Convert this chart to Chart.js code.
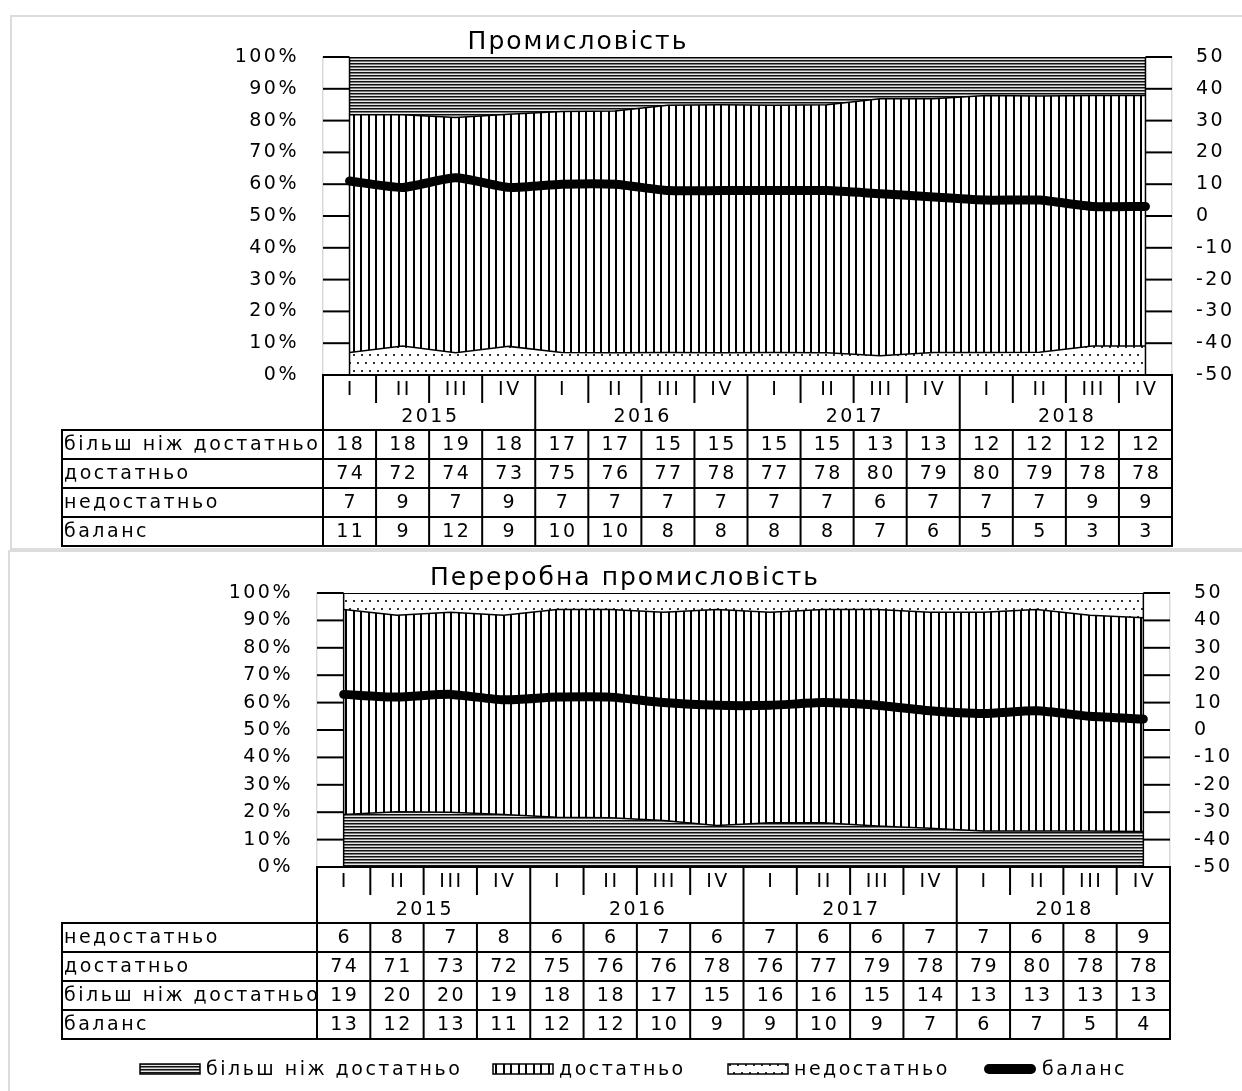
<!DOCTYPE html>
<html><head><meta charset="utf-8">
<script src="https://cdn.jsdelivr.net/npm/chart.js@4.4.1/dist/chart.umd.min.js"></script>
<style>
html,body{margin:0;padding:0;background:#fff;}
body{width:1242px;height:1091px;position:relative;overflow:hidden;}
.panel{position:absolute;border:2px solid #dcdcdc;box-sizing:border-box;}
canvas{position:absolute;left:0;}
</style></head><body>
<div class="panel" style="left:10px;top:15px;width:1250px;height:535px"></div>
<div class="panel" style="left:8px;top:550px;width:1250px;height:560px"></div>
<canvas id="c1" width="1242" height="550" style="top:0"></canvas>
<canvas id="c2" width="1242" height="541" style="top:550px"></canvas>
<script>
// ---------- data ----------
const quarters = ['I', 'II', 'III', 'IV'];
const years = ['2015', '2016', '2017', '2018'];
const nameMore = 'більш ніж достатньо';
const nameEnough = 'достатньо';
const nameNot = 'недостатньо';
const nameBal = 'баланс';

// Промисловість
const ind_more   = [18, 18, 19, 18, 17, 17, 15, 15, 15, 15, 13, 13, 12, 12, 12, 12];
const ind_enough = [74, 72, 74, 73, 75, 76, 77, 78, 77, 78, 80, 79, 80, 79, 78, 78];
const ind_not    = [7, 9, 7, 9, 7, 7, 7, 7, 7, 7, 6, 7, 7, 7, 9, 9];
const ind_bal    = [11, 9, 12, 9, 10, 10, 8, 8, 8, 8, 7, 6, 5, 5, 3, 3];

// Переробна промисловість
const man_not    = [6, 8, 7, 8, 6, 6, 7, 6, 7, 6, 6, 7, 7, 6, 8, 9];
const man_enough = [74, 71, 73, 72, 75, 76, 76, 78, 76, 77, 79, 78, 79, 80, 78, 78];
const man_more   = [19, 20, 20, 19, 18, 18, 17, 15, 16, 16, 15, 14, 13, 13, 13, 13];
const man_bal    = [13, 12, 13, 11, 12, 12, 10, 9, 9, 10, 9, 7, 6, 7, 5, 4];

const periods = years.flatMap(y => quarters.map(q => q + ' ' + y));

// ---------- style ----------
const FAMILY = "'DejaVu Sans', Verdana, sans-serif";
const LS = '2.5px';
const FS = 19;
const fnt = s => s + 'px ' + FAMILY;

function makePattern(ctx, kind) {
  const c = document.createElement('canvas'), g = c.getContext('2d');
  if (kind === 'h') {
    c.width = 4; c.height = 3;
    g.fillStyle = '#e6e6e6'; g.fillRect(0, 0, 4, 3);
    g.fillStyle = '#111'; g.fillRect(0, 0, 4, 1);
    g.fillStyle = '#7a7a7a'; g.fillRect(0, 1, 4, 1);
  } else if (kind === 'v') {
    c.width = 15; c.height = 4;
    g.fillStyle = '#fff'; g.fillRect(0, 0, 15, 4);
    g.fillStyle = '#000'; g.fillRect(0, 0, 2, 4); g.fillRect(8, 0, 2, 4);
  } else {
    c.width = 8; c.height = 16;
    g.fillStyle = '#fff'; g.fillRect(0, 0, 8, 16);
    g.fillStyle = '#333'; g.fillRect(1, 2, 2, 2); g.fillRect(5, 10, 2, 2);
  }
  return ctx.createPattern(c, 'repeat');
}

function line(ctx, x1, y1, x2, y2) {
  ctx.beginPath(); ctx.moveTo(x1, y1); ctx.lineTo(x2, y2); ctx.stroke();
}

function build(cfg) {
  const canvas = document.getElementById(cfg.id);
  const ctx = canvas.getContext('2d');
  const n = periods.length;
  const totals = periods.map((_, i) => cfg.layers.reduce((s, L) => s + L.data[i], 0));
  let cum = new Array(n).fill(0);
  const bounds = cfg.layers.map(L => {
    cum = cum.map((c, i) => c + L.data[i] / totals[i] * 100);
    return cum.slice();
  });
  const pats = {};
  cfg.layers.forEach(L => { pats[L.label] = makePattern(ctx, L.pat); });

  const datasets = [{
    label: nameBal, data: cfg.balance, yAxisID: 'y1', borderColor: '#000',
    backgroundColor: '#000', borderWidth: 9, borderCapStyle: 'round', borderJoinStyle: 'round',
    pointRadius: 0, tension: 0.2, fill: false, order: 0
  }];
  const L = cfg.layers.length;
  for (let k = L - 1; k >= 0; k--) {
    const idx = datasets.length;
    datasets.push({
      label: cfg.layers[k].label, data: bounds[k], yAxisID: 'y',
      borderColor: '#000', borderWidth: k === L - 1 ? 2 : 1.5,
      backgroundColor: pats[cfg.layers[k].label],
      pointRadius: 0, tension: 0,
      fill: k === 0 ? 'origin' : idx + 1, order: 1
    });
  }

  const deco = {
    id: 'deco',
    beforeUpdate(chart) { chart.ctx.letterSpacing = LS; },
    beforeLayout(chart) { chart.ctx.letterSpacing = LS; },
    beforeDraw(chart) { chart.ctx.letterSpacing = LS; },
    afterDatasetsDraw(chart) {
      const { ctx, chartArea: ca, scales: { x, y, y1 } } = chart;
      const xF = x.getPixelForValue(0), xL = x.getPixelForValue(n - 1);
      ctx.save();
      ctx.strokeStyle = '#000';
      ctx.lineWidth = 1.5;
      line(ctx, xF, y.getPixelForValue(0), xF, y.getPixelForValue(100));
      line(ctx, xL, y.getPixelForValue(0), xL, y.getPixelForValue(100));
      ctx.lineWidth = 2;
      y.ticks.forEach(t => { const py = y.getPixelForValue(t.value); line(ctx, ca.left, py, xF, py); });
      y1.ticks.forEach(t => { const py = y1.getPixelForValue(t.value); line(ctx, xL, py, ca.right, py); });
      ctx.restore();
    },
    afterDraw(chart) {
      const { ctx, chartArea: ca, scales: { x } } = chart;
      const colW = (ca.right - ca.left) / n;
      const edge = i => (i < n ? x.getPixelForValue(i) - colW / 2 : x.getPixelForValue(n - 1) + colW / 2);
      const y0 = ca.bottom, yQ = y0 + cfg.qh, yY = yQ + cfg.yh;
      const rows = cfg.table;
      const yEnd = yY + rows.length * cfg.rh;
      ctx.save();
      ctx.letterSpacing = LS;
      ctx.strokeStyle = '#000'; ctx.lineWidth = 2; ctx.lineCap = 'square';
      line(ctx, ca.left, y0, ca.right, y0);
      for (let i = 0; i <= n; i++) {
        const ex = edge(i);
        if (i % 4 === 0) line(ctx, ex, y0, ex, yY);
        else line(ctx, ex, y0, ex, yQ - 1);
      }
      for (let r = 0; r <= rows.length; r++) line(ctx, cfg.tableLeft, yY + r * cfg.rh, ca.right, yY + r * cfg.rh);
      line(ctx, cfg.tableLeft, yY, cfg.tableLeft, yEnd);
      for (let i = 0; i <= n; i++) line(ctx, edge(i), yY, edge(i), yEnd);

      ctx.fillStyle = '#000';
      ctx.font = fnt(FS);
      ctx.textBaseline = 'middle';
      ctx.textAlign = 'center';
      for (let i = 0; i < n; i++) ctx.fillText(quarters[i % 4], x.getPixelForValue(i) + 1.2, (y0 + yQ) / 2 + 1);
      years.forEach((yr, j) => {
        ctx.fillText(yr, (edge(j * 4) + edge(j * 4 + 4)) / 2 + 1.2, (yQ + yY) / 2 + 1);
      });
      rows.forEach((row, r) => {
        const cy = yY + r * cfg.rh + cfg.rh / 2 + 1;
        ctx.textAlign = 'left';
        ctx.fillText(row.label, cfg.tableLeft + 2, cy);
        ctx.textAlign = 'center';
        row.data.forEach((v, i) => ctx.fillText(String(v), x.getPixelForValue(i) + 1.2, cy));
      });

      // title
      ctx.font = fnt(25);
      ctx.letterSpacing = '2px';
      ctx.textAlign = 'center';
      ctx.fillText(cfg.title, cfg.titleX, cfg.titleY);
      ctx.letterSpacing = LS;

      // legend
      if (cfg.legend) {
        const ly = yEnd + cfg.legend.dy;
        ctx.font = fnt(FS);
        ctx.textAlign = 'left';
        cfg.legend.items.forEach(it => {
          if (it.label === nameBal) {
            ctx.lineWidth = 10; ctx.lineCap = 'round'; ctx.strokeStyle = '#000';
            line(ctx, it.x + 5, ly, it.x + it.w - 5, ly);
          } else {
            ctx.fillStyle = pats[it.label];
            ctx.fillRect(it.x, ly - 5, it.w, 10);
            ctx.lineWidth = 1.5; ctx.strokeStyle = '#000';
            ctx.strokeRect(it.x, ly - 5, it.w, 10);
          }
          ctx.fillStyle = '#000';
          ctx.fillText(it.label, it.x + it.w + 6, ly + 1);
        });
      }
      ctx.restore();
    }
  };

  const tickFont = { family: FAMILY, size: FS };
  return new Chart(canvas, {
    type: 'line',
    data: { labels: periods, datasets },
    options: {
      responsive: false, animation: false, events: [],
      layout: { padding: { top: cfg.top, bottom: 0, left: 0, right: 0 } },
      plugins: {
        legend: { display: false }, tooltip: { enabled: false },
        filler: { drawTime: 'beforeDatasetsDraw', propagate: false }
      },
      scales: {
        x: {
          type: 'category', offset: true, display: true,
          grid: { display: false, drawTicks: false }, border: { display: false },
          ticks: { display: false },
          afterFit: s => { s.height = cfg.xh; }
        },
        y: {
          position: 'left', min: 0, max: 100,
          ticks: { stepSize: 10, callback: v => v + '%', padding: 24, color: '#000', font: tickFont },
          grid: { display: false, drawTicks: false },
          border: { display: true, color: '#d9d9d9', width: 1.5 },
          afterFit: s => { s.width = cfg.left; }
        },
        y1: {
          position: 'right', min: -50, max: 50,
          ticks: { stepSize: 10, padding: 24, color: '#000', font: tickFont },
          grid: { display: false, drawTicks: false },
          border: { display: true, color: '#d9d9d9', width: 1.5 },
          afterFit: s => { s.width = cfg.rightW; }
        }
      }
    },
    plugins: [deco]
  });
}

build({
  id: 'c1', title: 'Промисловість', titleX: 578, titleY: 42,
  top: 57, xh: 175, left: 323, rightW: 70,
  qh: 28, yh: 27, rh: 29, tableLeft: 62,
  layers: [
    { label: nameNot, data: ind_not, pat: 'd' },
    { label: nameEnough, data: ind_enough, pat: 'v' },
    { label: nameMore, data: ind_more, pat: 'h' }
  ],
  balance: ind_bal,
  table: [
    { label: nameMore, data: ind_more },
    { label: nameEnough, data: ind_enough },
    { label: nameNot, data: ind_not },
    { label: nameBal, data: ind_bal }
  ]
});

build({
  id: 'c2', title: 'Переробна промисловість', titleX: 625, titleY: 28,
  top: 43, xh: 224, left: 317, rightW: 72,
  qh: 28, yh: 28, rh: 29, tableLeft: 62,
  layers: [
    { label: nameMore, data: man_more, pat: 'h' },
    { label: nameEnough, data: man_enough, pat: 'v' },
    { label: nameNot, data: man_not, pat: 'd' }
  ],
  balance: man_bal,
  table: [
    { label: nameNot, data: man_not },
    { label: nameEnough, data: man_enough },
    { label: nameMore, data: man_more },
    { label: nameBal, data: man_bal }
  ],
  legend: {
    dy: 30,
    items: [
      { label: nameMore, x: 140, w: 60 },
      { label: nameEnough, x: 493, w: 60 },
      { label: nameNot, x: 728, w: 60 },
      { label: nameBal, x: 984, w: 52 }
    ]
  }
});
</script>
</body></html>
